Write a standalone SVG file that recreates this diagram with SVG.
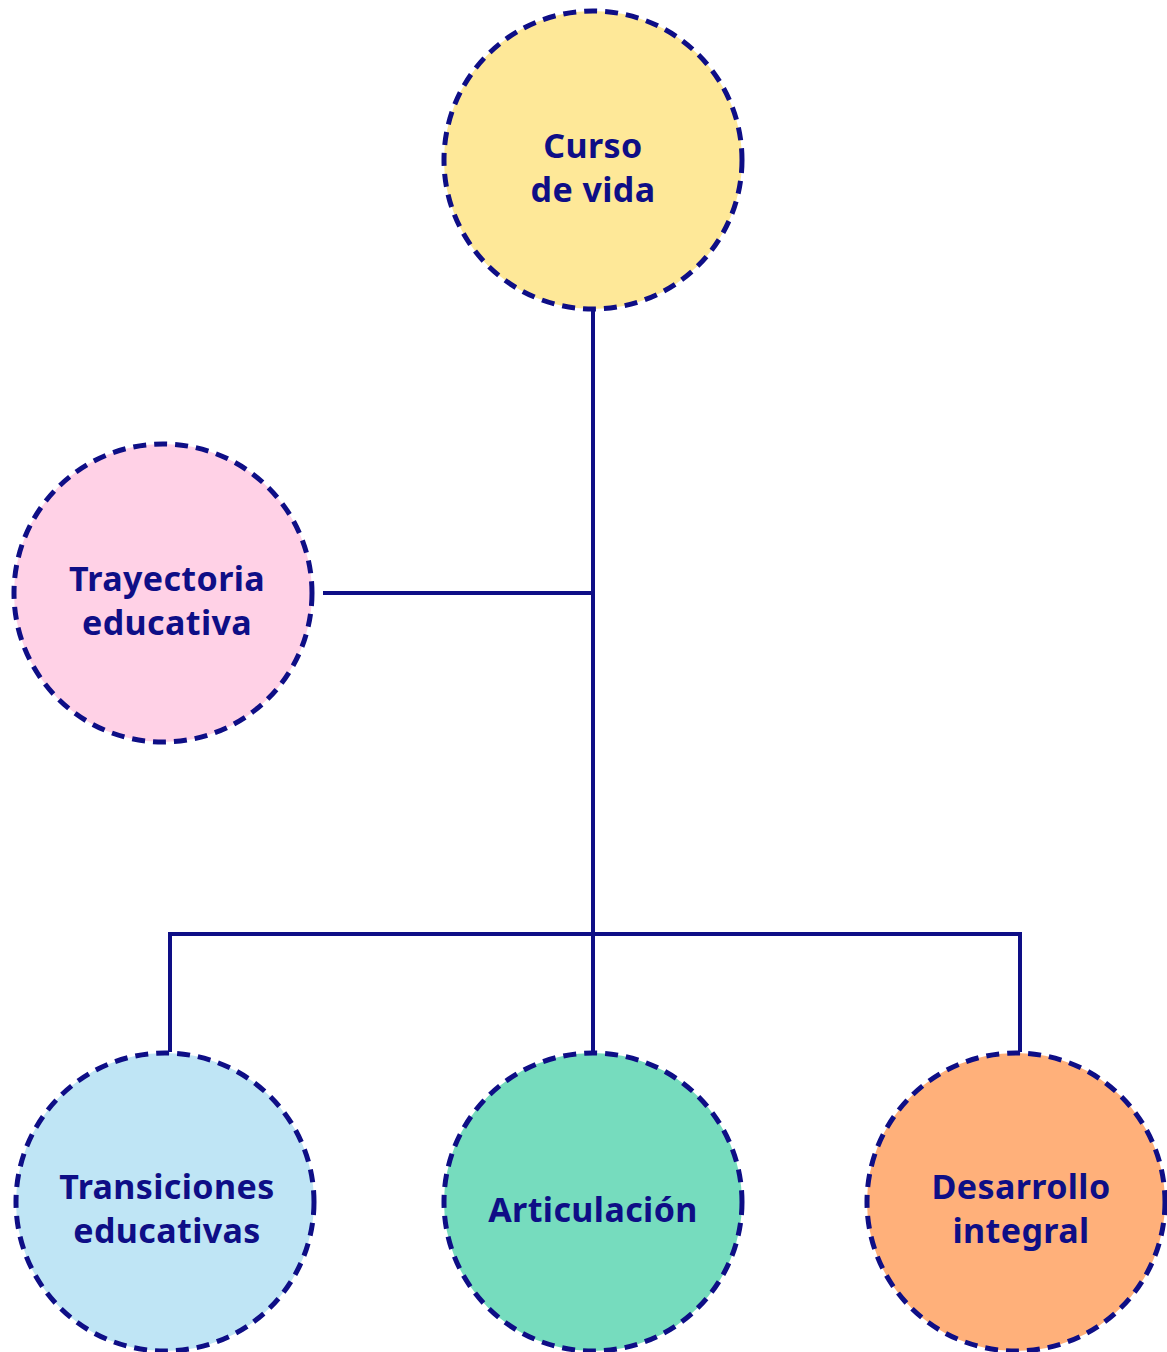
<svg xmlns="http://www.w3.org/2000/svg" width="1167" height="1352" viewBox="0 0 1167 1352">
  <style>
    .node { stroke: #0e0e86; stroke-width: 5; stroke-dasharray: 13 8; }
    .wire { fill: none; stroke: #0e0e86; stroke-width: 4; stroke-linecap: butt; stroke-linejoin: miter; }
    .label { font-family: "Noto Sans", "Open Sans", "Liberation Sans", sans-serif; font-weight: 700; font-size: 34px; letter-spacing: 0.4px; fill: #0e0e86; text-anchor: middle; font-variant-ligatures: none; }
  </style>
  <rect width="1167" height="1352" fill="#ffffff"/>

  <!-- connectors -->
  <g id="connectors">
    <path class="wire" d="M593 310 V1052"/>
    <path class="wire" d="M323 593 H593"/>
    <path class="wire" d="M170 1052 V934 H1020 V1052"/>
  </g>

  <g id="curso-de-vida">
    <circle class="node" cx="593" cy="160" r="149" fill="#fee898"/>
    <text class="label" x="593" y="158">Curso</text>
    <text class="label" x="593" y="202">de vida</text>
  </g>

  <g id="trayectoria-educativa">
    <circle class="node" cx="163" cy="593" r="149" fill="#ffd1e6"/>
    <text class="label" x="167" y="591">Trayectoria</text>
    <text class="label" x="167" y="635">educativa</text>
  </g>

  <g id="transiciones-educativas">
    <circle class="node" cx="165" cy="1202" r="149" fill="#bfe5f5"/>
    <text class="label" x="167" y="1199">Transiciones</text>
    <text class="label" x="167" y="1243">educativas</text>
  </g>

  <g id="articulacion">
    <circle class="node" cx="593" cy="1202" r="149" fill="#76dcbe"/>
    <text class="label" x="593" y="1222">Articulación</text>
  </g>

  <g id="desarrollo-integral">
    <circle class="node" cx="1016" cy="1202" r="149" fill="#ffb07a"/>
    <text class="label" x="1021" y="1199">Desarrollo</text>
    <text class="label" x="1021" y="1243">integral</text>
  </g>
</svg>
